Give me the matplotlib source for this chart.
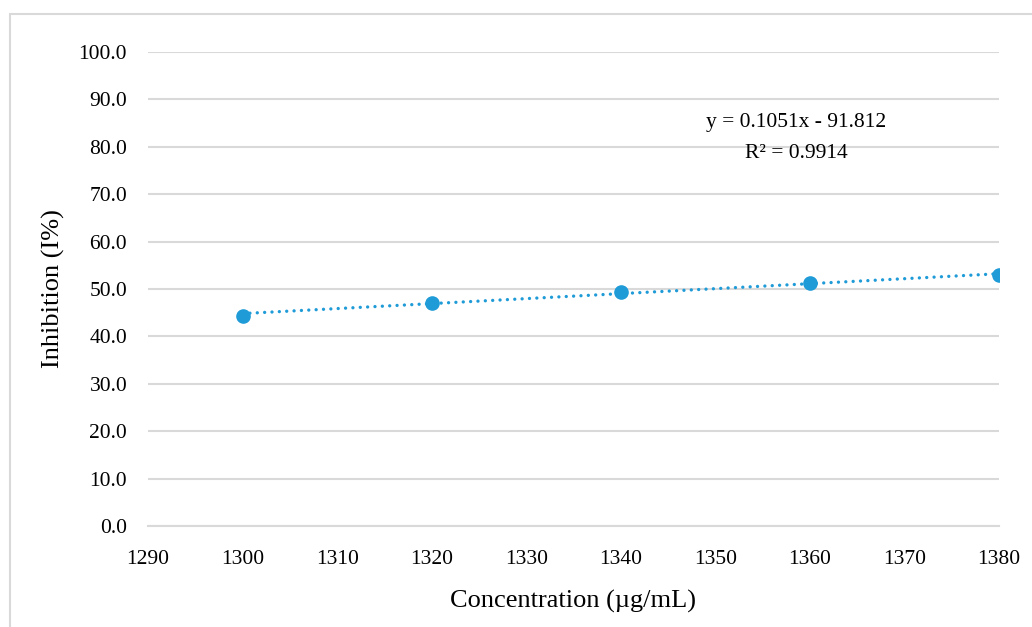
import numpy as np
import matplotlib
matplotlib.use("Agg")
import matplotlib.pyplot as plt
from matplotlib.patches import Rectangle

plt.rcParams['font.family'] = ['Liberation Serif', 'DejaVu Serif']

# data
concentration = [1300, 1320, 1340, 1360, 1380]
inhibition = [44.4, 47.1, 49.3, 51.2, 53.0]
slope = 0.1051
intercept = -91.812
r2_text = "R² = 0.9914"
eq_text = "y = 0.1051x - 91.812"

x_ticks = [1290, 1300, 1310, 1320, 1330, 1340, 1350, 1360, 1370, 1380]
y_ticks = [0, 10, 20, 30, 40, 50, 60, 70, 80, 90, 100]

blue = '#1F9BD7'
grid_c = '#D9D9D9'

fig = plt.figure(figsize=(10.32, 6.27), dpi=100)
ax = fig.add_axes([148 / 1032, 1 - 526 / 627, (999 - 148) / 1032, (526 - 52) / 627])

# outer frame (chart area border)
fig.patches.append(Rectangle((10 / 1032, -0.1), 1.2, 1 - 14 / 627 + 0.1,
                             transform=fig.transFigure, fill=False,
                             edgecolor=grid_c, lw=1.5))

# trendline (round dotted)
xs = np.array([concentration[0], concentration[-1]])
ax.plot(xs, slope * xs + intercept, linestyle=(0, (0.01, 2.2)), color=blue,
        lw=2.4, zorder=3, dash_capstyle='round')
ax.plot(concentration, inhibition, 'o', color=blue, markersize=9.5, zorder=4)

ax.set_xlim(1290, 1380)
ax.set_ylim(0, 100)
ax.set_xticks(x_ticks)
ax.set_yticks(y_ticks)
ax.set_yticklabels([f'{v:.1f}' for v in y_ticks])
ax.grid(axis='y', color=grid_c, lw=1.5)
ax.set_axisbelow(True)
for s in ['top', 'right', 'left']:
    ax.spines[s].set_visible(False)
ax.spines['bottom'].set_color(grid_c)
ax.spines['bottom'].set_linewidth(1.5)
ax.tick_params(length=0, labelsize=15.5, colors='black')
ax.tick_params(axis='x', pad=17)
ax.tick_params(axis='y', pad=15)

ax.set_xlabel('Concentration (µg/mL)', fontsize=19, labelpad=15)
ax.set_ylabel('Inhibition (I%)', fontsize=19, labelpad=10)

ax.text(796 / 1032, 1 - 123 / 627, eq_text, transform=fig.transFigure,
        ha='center', va='center', fontsize=15.5)
ax.text(796 / 1032, 1 - 153 / 627, r2_text, transform=fig.transFigure,
        ha='center', va='center', fontsize=15.5)

fig.savefig('out.png', dpi=100)
